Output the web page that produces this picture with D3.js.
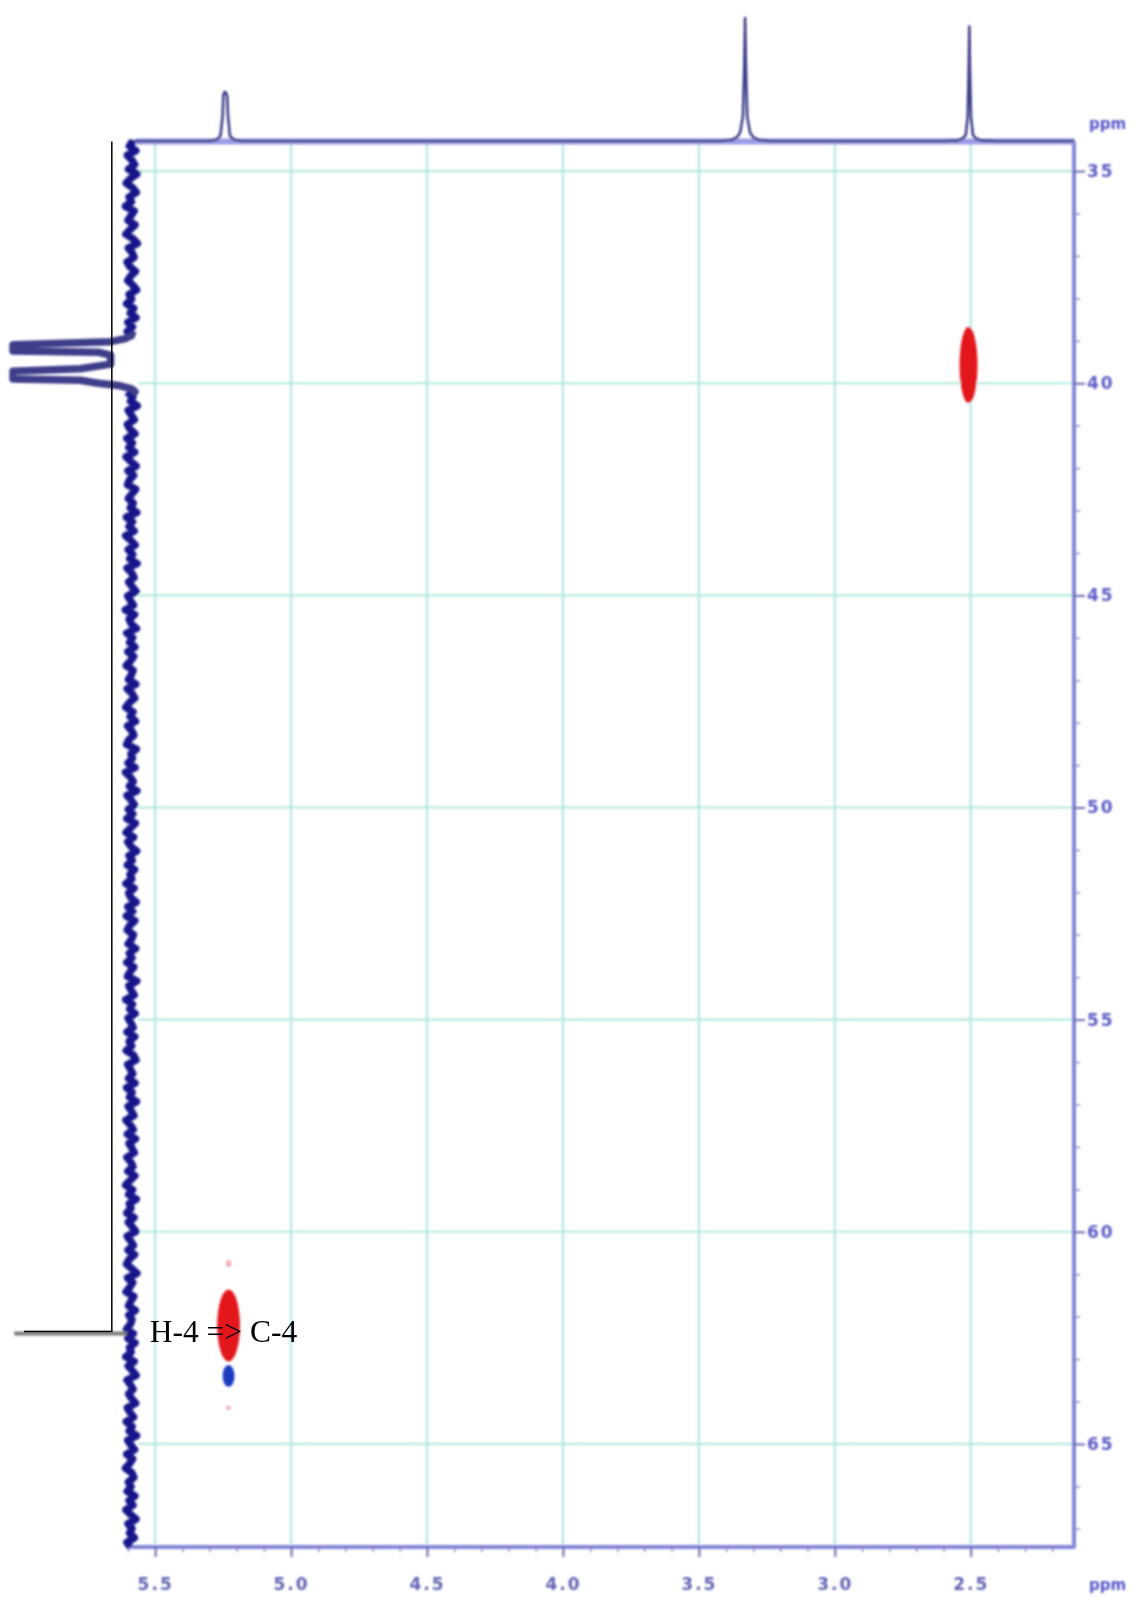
<!DOCTYPE html>
<html><head><meta charset="utf-8">
<script src="https://cdn.jsdelivr.net/npm/d3@7"></script>
<style>
html,body{margin:0;padding:0;background:#fff;}
svg{display:block;}
</style></head><body>
<svg id="chart" width="1145" height="1602"></svg>
<script>
// F2 (1H) and F1 (13C) axes, ppm
const protonTicks = [5.5, 5.0, 4.5, 4.0, 3.5, 3.0, 2.5];
const carbonTicks = [35, 40, 45, 50, 55, 60, 65];
const protonDomain = [5.6, 2.12];
const carbonDomain = [34.3, 67.43];

// 1H projection (top): [ppm, relative intensity]
const protonTrace = [
  [5.60, 0], [5.30, 0], [5.275, 0.01], [5.26, 0.04], [5.252, 0.2], [5.249, 0.38],
  [5.244, 0.40], [5.239, 0.39], [5.235, 0.36], [5.232, 0.2], [5.225, 0.04], [5.21, 0.01], [5.18, 0],
  [3.42, 0], [3.38, 0.01], [3.36, 0.03], [3.348, 0.07], [3.338, 0.2], [3.333, 0.6],
  [3.330, 1.0], [3.327, 0.6], [3.322, 0.2], [3.312, 0.07], [3.30, 0.03], [3.28, 0.01], [3.24, 0],
  [2.60, 0], [2.55, 0.005], [2.53, 0.02], [2.518, 0.05], [2.511, 0.2], [2.507, 0.6],
  [2.505, 0.93], [2.503, 0.6], [2.499, 0.2], [2.492, 0.05], [2.48, 0.02], [2.46, 0.005], [2.40, 0],
  [2.12, 0]
];

// 13C projection (left): DMSO-d6 multiplet, [ppm, relative intensity]
const carbonSolvent = [
  [38.88, 0.03], [38.95, 0.08], [39.02, 0.2], [39.09, 0.98], [39.10, 1.0], [39.24, 1.0], [39.27, 0.3],
  [39.34, 0.2], [39.55, 0.2], [39.66, 0.45], [39.72, 1.0], [39.90, 1.0], [39.93, 0.45],
  [40.00, 0.3], [40.06, 0.12], [40.13, 0.03], [40.20, 0.0]
];
// 13C projection baseline noise, evenly spaced over the F1 range (1 count = noiseUnit intensity)
const noiseUnit = 0.0013;
const carbonNoise = [
  10, 35, -5, 48, 20, 2, 41, -12, 28, 55, 15, -8, 38, 22, 60, 5,
  25, 44, 0, 31, 58, 12, -15, 42, 18, 6, 50, 33, -3, 27, 46, 14,
  -10, 37, 21, 53, 8, 30, -6, 45, 16, 49, 3, 34, 11, 57, 24, -9,
  40, 7, 47, 19, -2, 36, 52, 13, 29, -14, 43, 23, 4, 48, 32, 0,
  51, 17, 39, 2, 56, 26, -7, 44, 9, 35, 47, -4, 20, 42, 11, 30,
  -11, 54, 16, 38, 5, 59, 27, -1, 43, 14, 33, -13, 50, 21, 6, 40,
  18, -6, 46, 28, 10, 61, 3, 37, 24, -9, 52, 15, 34, 1, 45, 8,
  29, 55, 12, 23, 41, -5, 49, 19, 2, 36, 58, 13, 31, -3, 47, 22,
  7, 39, 53, -8, 26, 16, 44, 0, 60, 30, 11, 35, -12, 50, 24, 4,
  42, 14, 51, -2, 28, 56, 9, 46, 25, -10, 38, 17, 48, 3, 32, 20,
  57, 6, 40, 27, -7, 45, 15, 54, 1, 33, 49, 10, 22, 43, -4, 36,
  19, 52, 8, 31, 47, -11, 39, 24, 5, 58, 16, 34, -1, 44, 26, 12,
  50, 2, 37, 21, 55, 9, -6, 46, 29, 14, 41, 0, 53, 18, 35, -9,
  43, 23, 7, 57, 30, 11, 48, -3, 38, 20, 4, 51, 27, 13, 45, 1,
  32, 59, 15, 40, -8, 36, 25, 52, 6, 42, 17, -5, 49, 28, 10, 44,
  3, 37, 54, 21, -12, 47, 14, 33, 56, 8, 26, 41, -2, 39, 19, 30,
  53, 11, 45, 0, 35, 24, 58, 5, 43, 16, -7, 50, 29, 12, 40, 22,
  -4, 48, 31, 9, 55, 18, 37, -10, 46, 27, 3, 52, 15, 34, 60, 20,
  7, 42, 25, 49, 1, 38, 13, 57, 28, -6, 44, 19, 35, 4, 51, 30
];
// C-4 line in the 13C projection
const carbonSignals = [{ppm: 62.35, intensity: 0.99}];

// HSQC cross peaks: centre (1H, 13C), half-widths in ppm, phase, contour level
const crossPeaks = [
  {h: 2.508, c: 39.57, dh: 0.033, dc: 0.90, phase: 1, level: 1},
  {h: 5.230, c: 62.21, dh: 0.042, dc: 0.85, phase: 1, level: 1},
  {h: 5.230, c: 63.40, dh: 0.022, dc: 0.26, phase: -1, level: 1},
  {h: 5.230, c: 60.75, dh: 0.010, dc: 0.09, phase: 1, level: 0},
  {h: 5.230, c: 64.15, dh: 0.008, dc: 0.06, phase: 1, level: 0}
];

// Assignment label and its leader line
const annotation = {label: "H-4 => C-4", c: 62.35, h: 5.52, lead: [0.19, 0.91]};

const svg = d3.select("#chart");
const x = d3.scaleLinear().domain(protonDomain).range([128, 1074]);
const y = d3.scaleLinear().domain(carbonDomain).range([141.4, 1547]);
const topI = d3.scaleLinear().domain([0, 1]).range([141, 18]);
const leftI = d3.scaleLinear().domain([0, 1]).range([135, 13]);

const defs = svg.append("defs");
defs.append("filter").attr("id", "soft")
  .attr("x", "-5%").attr("y", "-5%").attr("width", "110%").attr("height", "110%")
  .append("feGaussianBlur").attr("stdDeviation", 0.9);

const plot = svg.append("g").attr("filter", "url(#soft)");

const [x0, x1] = x.range();
const [y0, y1] = y.range();

// grid
plot.append("g").selectAll("line").data(protonTicks).join("line")
  .attr("x1", d => x(d)).attr("x2", d => x(d))
  .attr("y1", y0).attr("y2", y1)
  .attr("stroke", "#b4e6e8").attr("stroke-width", 2.2);
plot.append("g").selectAll("line").data(carbonTicks).join("line")
  .attr("x1", x0 + 10).attr("x2", x1)
  .attr("y1", d => y(d)).attr("y2", d => y(d))
  .attr("stroke", "#b2e8de").attr("stroke-width", 2.2);

// cross peaks
const peakColor = d => d.phase < 0 ? "#1f3cc0" : (d.level > 0 ? "#e3121c" : "#eeb0ba");
plot.append("g").selectAll("ellipse").data(crossPeaks).join("ellipse")
  .attr("cx", d => x(d.h)).attr("cy", d => y(d.c))
  .attr("rx", d => Math.abs(x(d.h + d.dh) - x(d.h)))
  .attr("ry", d => Math.abs(y(d.c + d.dc) - y(d.c)))
  .attr("fill", peakColor);

// frame
plot.append("path")
  .attr("d", `M${x1},${y0}V${y1}H${x0}`)
  .attr("fill", "none").attr("stroke", "#8484d8").attr("stroke-width", 4)
  .attr("stroke-linejoin", "round");
plot.append("line")
  .attr("x1", x0 + 8).attr("x2", x1 + 1).attr("y1", y0).attr("y2", y0)
  .attr("stroke", "#9a9ae6").attr("stroke-width", 6);

const labelStyle = g => g.selectAll("text")
  .attr("fill", "#5b5bc6").attr("font-family", "DejaVu Sans")
  .attr("font-weight", "bold").attr("font-size", 17).attr("letter-spacing", 2);

// right (13C) axis
const rightAxis = plot.append("g").attr("transform", `translate(${x1},0)`);
rightAxis.append("g")
  .call(d3.axisRight(y).tickValues(d3.range(35, 68, 1).filter(v => v % 5)).tickSize(6).tickFormat(""))
  .call(g => g.select(".domain").remove())
  .call(g => g.selectAll("line").attr("stroke", "#8a8ac8").attr("stroke-width", 1.5));
rightAxis.append("g")
  .call(d3.axisRight(y).tickValues(carbonTicks).tickSize(11).tickPadding(2).tickFormat(d3.format("d")))
  .call(g => g.select(".domain").remove())
  .call(g => g.selectAll("line").attr("stroke", "#6a6ab0").attr("stroke-width", 2))
  .call(labelStyle);

// bottom (1H) axis
const bottomAxis = plot.append("g").attr("transform", `translate(0,${y1})`);
bottomAxis.append("g")
  .call(d3.axisBottom(x).tickValues(d3.range(56, 21, -1).map(v => v / 10).filter(v => Math.round(v * 10) % 5)).tickSize(5).tickFormat(""))
  .call(g => g.select(".domain").remove())
  .call(g => g.selectAll("line").attr("stroke", "#8a8ac8").attr("stroke-width", 1.5));
bottomAxis.append("g")
  .call(d3.axisBottom(x).tickValues(protonTicks).tickSize(10).tickPadding(21).tickFormat(d3.format(".1f")))
  .call(g => g.select(".domain").remove())
  .call(g => g.selectAll("line").attr("stroke", "#6a6ab0").attr("stroke-width", 2))
  .call(labelStyle)
  .call(g => g.selectAll("text").attr("fill", "#6262b4"));

// unit labels
plot.append("g").selectAll("text").data([y0 - 12, y1 + 43]).join("text")
  .attr("x", x1 + 15).attr("y", d => d)
  .attr("fill", "#5555c8").attr("font-family", "DejaVu Sans").attr("font-weight", "bold")
  .attr("font-size", 15).text("ppm");

// 1H projection
plot.append("path").datum(protonTrace)
  .attr("d", d3.line().x(d => x(d[0])).y(d => topI(d[1])))
  .attr("fill", "none").attr("stroke", "#3c3c88").attr("stroke-width", 2.6)
  .attr("stroke-linejoin", "round");

// 13C projection
const noisePts = carbonNoise.map((v, i) => [
  carbonDomain[0] + i * (carbonDomain[1] - carbonDomain[0]) / (carbonNoise.length - 1), v * noiseUnit]);
plot.append("path").datum(noisePts)
  .attr("d", d3.line().x(d => leftI(d[1])).y(d => y(d[0])).defined(d => d[0] < 38.92 || d[0] > 40.15))
  .attr("fill", "none").attr("stroke", "#16168a").attr("stroke-width", 7.5)
  .attr("stroke-linejoin", "round");
plot.append("path").datum(carbonSolvent)
  .attr("d", d3.line().x(d => leftI(d[1])).y(d => y(d[0])))
  .attr("fill", "none").attr("stroke", "#3e3e8a").attr("stroke-width", 7.5)
  .attr("stroke-linejoin", "round").attr("stroke-linecap", "round");
plot.append("g").selectAll("line").data(carbonSignals).join("line")
  .attr("x1", leftI(0) - 8).attr("x2", d => leftI(d.intensity))
  .attr("y1", d => y(d.ppm) + 2).attr("y2", d => y(d.ppm) + 2)
  .attr("stroke", "#7c7c7c").attr("stroke-width", 4);

// assignment annotation
const note = svg.append("g");
note.append("path")
  .attr("d", `M${leftI(annotation.lead[0])},${y0}V${y(annotation.c)}H${leftI(annotation.lead[1])}`)
  .attr("fill", "none").attr("stroke", "#000").attr("stroke-width", 1.5);
note.append("text")
  .attr("x", x(annotation.h)).attr("y", y(annotation.c) + 11)
  .attr("font-family", "Liberation Serif").attr("font-size", 31.5).attr("fill", "#000")
  .text(annotation.label);
</script>
</body></html>
